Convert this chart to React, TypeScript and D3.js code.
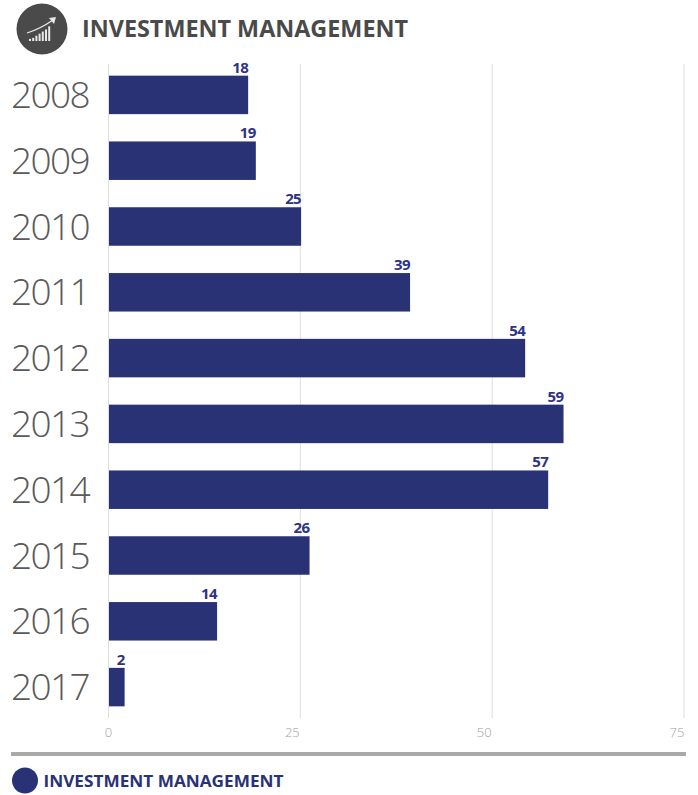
import React from "react";
import * as d3 from "d3";

const years = ["2008","2009","2010","2011","2012","2013","2014","2015","2016","2017"];
const barValues = [18.2,19.2,25.1,39.3,54.3,59.3,57.3,26.2,14.15,2.1];
const valueLabels = ["18","19","25","39","54","59","57","26","14","2"];
const axisTicks = [0,25,50,75];
const iconBars = [2,3,5,7,9,11,14];
const title = "INVESTMENT MANAGEMENT";
const NAVY = "#2a3276";
const FONT = "'Open Sans', sans-serif";

export default function App() {
  const x = d3.scaleLinear().domain([0,75]).range([108.5,684]);
  const y = d3.scaleBand<string>().domain(years).range([62,720]).paddingInner(0.415).paddingOuter(0.2075);
  return (
    <svg width={698} height={795} style={{position:"absolute",left:0,top:0,background:"#fff"}} fontFamily={FONT}>
      <circle cx={42} cy={29} r={25.5} fill="#4a4a4a"/>
      {iconBars.map((h,i)=>(
        <rect key={i} x={29+i*3.2} y={41-h*1.05} width={2} height={h*1.05} fill="#e8e8e8"/>
      ))}
      <path d="M27 33 Q40 29 53 20" fill="none" stroke="#e8e8e8" strokeWidth={1.3}/>
      <path d="M49 18 L56 17 L54 24 Z" fill="#e8e8e8"/>
      <text x={82} y={37} fontSize={23} fontWeight={700} fill="#4a4a4a" textLength={326} lengthAdjust="spacingAndGlyphs">{title}</text>

      {axisTicks.map(t=>(
        <g key={t}>
          <line x1={x(t)} x2={x(t)} y1={64} y2={718} stroke="#dedede" strokeWidth={1}/>
          <text x={t===75?x(t)-7:t===0?x(t):x(t)-8} y={737} fontSize={13} fontWeight={300} textAnchor="middle" fill="#a0a0a0">{t}</text>
        </g>
      ))}

      {years.map((yr,i)=>{
        const by = y(yr)!, bw = y.bandwidth();
        return (
          <g key={yr}>
            <rect x={x(0)+0.5} y={by} width={x(barValues[i])-x(0)-0.5} height={bw} fill={NAVY}/>
            <text x={x(barValues[i])} y={by-3} fontSize={15} fontWeight={700} textAnchor="end" fill="#2e3382" letterSpacing={-0.6}>{valueLabels[i]}</text>
            <text x={11} y={by+bw/2+13} fontSize={37} fontWeight={300} fill="#5a5a5a" letterSpacing={-1.6}>{yr}</text>
          </g>
        );
      })}

      <rect x={11} y={752} width={675} height={4} fill="#a9a9a9"/>
      <circle cx={25} cy={780.5} r={13} fill={NAVY}/>
      <text x={43.5} y={787} fontSize={16.5} fontWeight={700} fill={NAVY} textLength={240} lengthAdjust="spacingAndGlyphs">{title}</text>
    </svg>
  );
}
